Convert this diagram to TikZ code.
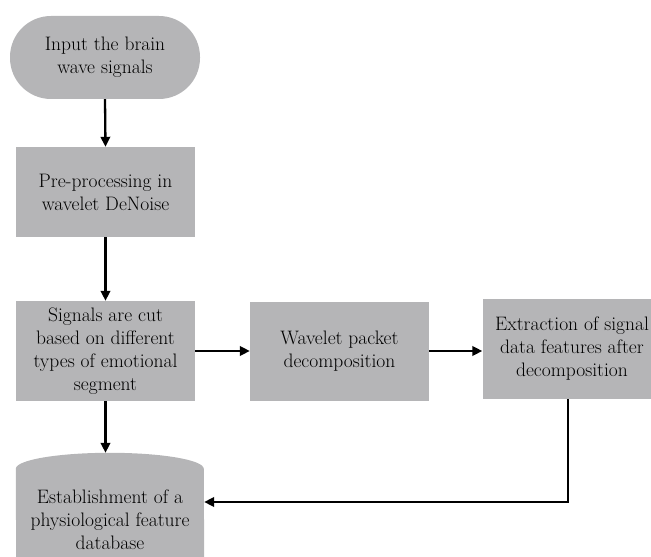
\documentclass[tikz,border=0pt]{standalone}
\usepackage{fontspec}
\usetikzlibrary{arrows.meta,calc}
\definecolor{boxgray}{RGB}{181,181,183}
\begin{document}
\begin{tikzpicture}[x=1pt,y=1pt,
  every node/.style={font=\rmfamily\fontsize{19.5}{23}\selectfont, align=center, text=black, inner sep=0pt},
  procbox/.style={rectangle, fill=boxgray, minimum width=179pt},
  arr/.style={line width=2.3pt, -{Triangle[length=10pt,width=9.5pt]}}]
\useasboundingbox (0,0) rectangle (651,557);
\clip (0,0) rectangle (651,557);
\node[procbox, rounded corners=41pt, minimum width=190pt, minimum height=83pt] (start) at (105,499.5) {Input the brain\\wave signals};
\node[procbox, minimum height=90pt] (pre) at (105.5,365) {Pre-processing in\\wavelet DeNoise};
\node[procbox, minimum height=100pt] (sig) at (105.5,206) {Signals are cut\\based on different\\types of emotional\\segment};
\node[procbox, minimum height=99pt] (wav) at (339.5,205.5) {Wavelet packet\\decomposition};
\node[procbox, minimum height=100pt] (ext) at (572,208) {Extraction of signal\\data features after\\decomposition};
\node[minimum width=188pt, minimum height=134pt] (db) at (110,37) {};
\fill[boxgray] ([yshift=-16pt]db.north west) arc[start angle=180, end angle=0, x radius=94pt, y radius=16pt]
  -- ([yshift=16pt]db.south east) arc[start angle=0, end angle=-180, x radius=94pt, y radius=16pt] -- cycle;
\node at (db.center) {Establishment of a\\physiological feature\\database};
\draw[arr] (start.south) -- (pre.north);
\draw[arr] (pre.south) -- (sig.north);
\draw[arr] (sig.east) -- (sig.east -| wav.west);
\draw[arr] (sig.east -| wav.east) -- (sig.east -| ext.west);
\draw[arr] (sig.south) -- (sig.south |- db.north);
\draw[arr] ([xshift=-4pt]ext.south) |- ([yshift=18pt]db.east);
\end{tikzpicture}
\end{document}
